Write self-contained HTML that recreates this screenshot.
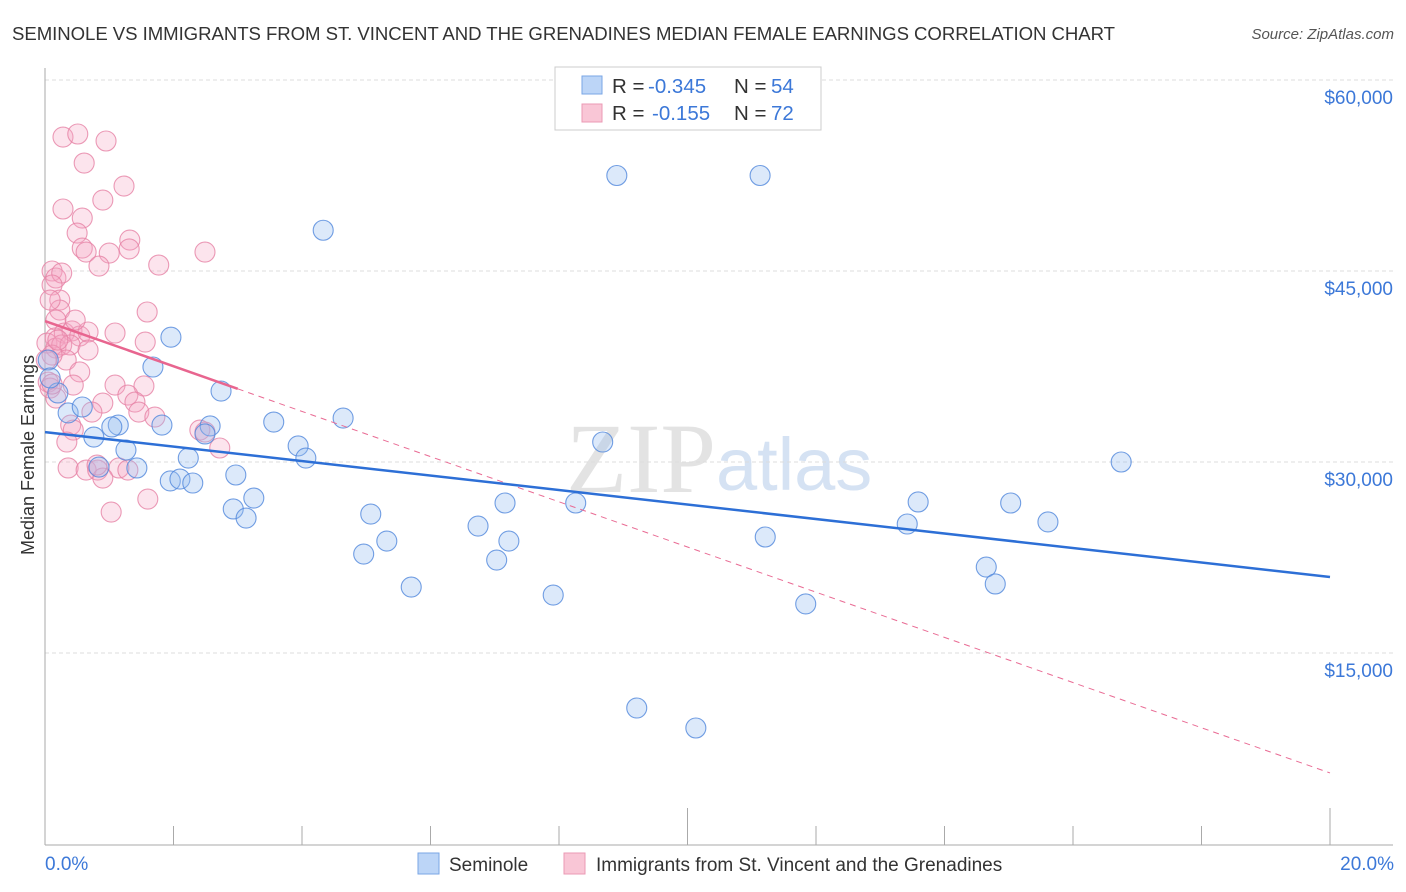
<!DOCTYPE html>
<html><head><meta charset="utf-8"><style>
body{margin:0;background:#fff;font-family:"Liberation Sans",sans-serif;}
#wrap{position:relative;width:1406px;height:892px;overflow:hidden;}
</style></head><body>
<div id="wrap">
<svg id="svg" width="1406" height="892" xmlns="http://www.w3.org/2000/svg">
<text x="12" y="40" font-size="18.6" fill="#333" textLength="1103">SEMINOLE VS IMMIGRANTS FROM ST. VINCENT AND THE GRENADINES MEDIAN FEMALE EARNINGS CORRELATION CHART</text>
<text x="1394" y="39" font-size="15" fill="#555" font-style="italic" text-anchor="end">Source: ZipAtlas.com</text>
<text x="716" y="492" font-size="100" fill="#e3e3e3" text-anchor="end" font-family="Liberation Serif">ZIP</text>
<text x="716" y="490" font-size="74" fill="#d5e2f3">atlas</text>
<text transform="translate(34,455) rotate(-90)" font-size="18" fill="#333" text-anchor="middle">Median Female Earnings</text>
<g id="grid"></g><g id="axes"></g><g id="marks"></g>
<g>
<rect x="555" y="67" width="266" height="63" fill="#fff" stroke="#ccc"/>
<rect x="582" y="76" width="20" height="18" fill="#bcd5f7" stroke="#7aa6e6"/>
<rect x="582" y="104" width="20" height="18" fill="#f9c6d6" stroke="#eb9ab4"/>
<text y="93" font-size="20.5" fill="#333"><tspan x="612">R = </tspan><tspan x="648" fill="#3c78d8">-0.345</tspan><tspan x="734">N = </tspan><tspan x="771" fill="#3c78d8">54</tspan></text>
<text y="120" font-size="20.5" fill="#333"><tspan x="612">R = </tspan><tspan x="652" fill="#3c78d8">-0.155</tspan><tspan x="734">N = </tspan><tspan x="771" fill="#3c78d8">72</tspan></text>
</g>
<g>
<rect x="418" y="853" width="21" height="21" fill="#bcd5f7" stroke="#7aa6e6"/>
<text x="449" y="871" font-size="19" fill="#333">Seminole</text>
<rect x="564" y="853" width="21" height="21" fill="#f9c6d6" stroke="#eb9ab4"/>
<text x="596" y="871" font-size="19" fill="#333">Immigrants from St. Vincent and the Grenadines</text>
</g>
</svg>
</div>
<script>
const blueX=[8.90,11.13,4.33,1.96,1.68,0.05,0.20,2.74,0.36,0.58,0.76,1.14,1.04,1.82,2.57,2.49,3.56,4.64,1.26,0.84,1.43,2.23,3.94,4.06,2.97,1.95,2.10,2.30,3.25,2.93,3.13,5.07,5.32,4.96,6.74,7.16,7.22,7.03,8.26,8.68,5.70,7.91,11.21,11.84,13.59,13.42,15.03,15.61,16.75,14.65,14.79,9.21,10.13,0.08];
const blueY=[52500,52500,48200,39800,37460,38010,35420,35570,33850,34320,31960,32900,32750,32900,32830,32200,33140,33450,30940,29600,29530,30310,31260,30310,28980,28510,28660,28350,27170,26310,25600,25910,23790,22770,24970,26780,23790,22300,26780,31570,20180,19550,24110,18850,26860,25130,26780,25290,30000,21750,20420,10680,9110,36600];
const pinkX=[0.28,0.51,0.95,0.61,1.23,0.28,0.90,0.58,0.50,1.32,0.58,0.64,1.00,1.31,1.77,0.84,2.49,0.11,0.17,0.26,0.11,0.23,0.23,0.17,1.59,0.16,0.30,0.42,0.54,0.67,0.03,0.17,0.26,1.09,0.39,0.67,1.56,0.33,0.11,0.54,0.05,0.08,0.44,1.09,1.54,0.17,1.29,1.40,0.90,0.73,1.46,1.71,0.40,0.44,0.34,2.41,2.49,2.72,0.36,0.64,0.82,1.15,1.29,0.90,1.60,1.03,0.11,0.02,0.81,0.20,0.47,0.08];
const pinkY=[55520,55760,55210,53480,51670,49870,50570,49160,47980,47430,46800,46490,46410,46730,45470,45390,46490,45000,44450,44840,43900,42720,41930,41150,41780,39740,40130,40290,39890,40210,39340,38950,39190,40130,39190,38790,39420,38010,38400,37070,36280,35810,36040,36040,35970,35020,35260,34710,34630,33920,33920,33530,32900,32510,31570,32510,32350,31100,29530,29370,29370,29530,29370,28740,27090,26070,36120,38010,29760,39580,41150,42720];
const blueTrend=[32350,20970];
const pinkTrend=[41070,5580];
const pinkSolidEnd=3.0;
const yTicks=[15000,30000,45000,60000];
const yTickLabels=["$15,000","$30,000","$45,000","$60,000"];
const xTicks=[0,2,4,6,8,10,12,14,16,18,20];

const NS="http://www.w3.org/2000/svg";
const X=v=>45+v/20*1285;
const Y=v=>844-v/15000*191;
function mk(t,a,p){const e=document.createElementNS(NS,t);for(const k in a)e.setAttribute(k,a[k]);p.appendChild(e);return e;}
const grid=document.getElementById('grid'),axes=document.getElementById('axes'),marks=document.getElementById('marks');
yTicks.forEach((v,i)=>{
 const l=mk('line',{x1:45,x2:1393,y1:Y(v),y2:Y(v),stroke:'#dcdcdc','stroke-dasharray':'4,3'},grid);
 
 
 const t=mk('text',{x:1393,y:Y(v)+24,'font-size':19,fill:'#3c78d8','text-anchor':'end'},axes);
 t.textContent=yTickLabels[i];
 
 
});
let a=mk('line',{x1:45,x2:45,y1:68,y2:845,stroke:'#aaa'},axes);


a=mk('line',{x1:45,x2:1393,y1:845,y2:845,stroke:'#aaa'},axes);


xTicks.forEach(v=>{
 const tall=(v===10||v===20);
 const l=mk('line',{x1:X(v),x2:X(v),y1:tall?808:826,y2:845,stroke:'#aaa'},axes);
 
 
});
let t=mk('text',{x:45,y:870,'font-size':19,fill:'#3c78d8'},axes);t.textContent='0.0%';


t=mk('text',{x:1394,y:870,'font-size':19,fill:'#3c78d8','text-anchor':'end'},axes);t.textContent='20.0%';



pinkX.forEach((x,i)=>{
 const c=mk('circle',{cx:X(x),cy:Y(pinkY[i]),r:10,fill:'rgba(245,165,195,0.3)',stroke:'rgba(230,130,165,0.8)','stroke-width':1.1},marks);
 
 
});
blueX.forEach((x,i)=>{
 const c=mk('circle',{cx:X(x),cy:Y(blueY[i]),r:10,fill:'rgba(150,188,240,0.33)',stroke:'rgba(80,135,220,0.8)','stroke-width':1.1},marks);
 
 
});
const pAt=x=>pinkTrend[0]+(pinkTrend[1]-pinkTrend[0])*x/20;
let l=mk('line',{x1:X(pinkSolidEnd),y1:Y(pAt(pinkSolidEnd)),x2:X(20),y2:Y(pinkTrend[1]),stroke:'#e96b94','stroke-width':1,'stroke-dasharray':'6,5'},marks);


l=mk('line',{x1:X(0),y1:Y(pinkTrend[0]),x2:X(pinkSolidEnd),y2:Y(pAt(pinkSolidEnd)),stroke:'#e8658f','stroke-width':2.5},marks);


l=mk('line',{x1:X(0),y1:Y(blueTrend[0]),x2:X(20),y2:Y(blueTrend[1]),stroke:'#2d6fd6','stroke-width':2.5},marks);


</script>
</body></html>
